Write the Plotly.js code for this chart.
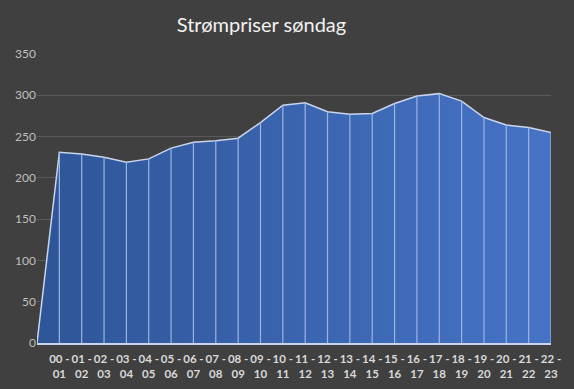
<!DOCTYPE html>
<html><head><meta charset="utf-8">
<script src="https://cdn.plot.ly/plotly-3.0.1.min.js"></script>
<style>html,body{margin:0;padding:0;background:#404040;}</style>
</head><body>
<div id="chart" style="width:574px;height:389px;"></div>
<script>
const categories = ["", "00 - 01","01 - 02","02 - 03","03 - 04","04 - 05","05 - 06","06 - 07","07 - 08","08 - 09","09 - 10","10 - 11","11 - 12","12 - 13","13 - 14","14 - 15","15 - 16","16 - 17","17 - 18","18 - 19","19 - 20","20 - 21","21 - 22","22 - 23"];
const tickLabels = ["", "00 -<br>01","01 -<br>02","02 -<br>03","03 -<br>04","04 -<br>05","05 -<br>06","06 -<br>07","07 -<br>08","08 -<br>09","09 -<br>10","10 -<br>11","11 -<br>12","12 -<br>13","13 -<br>14","14 -<br>15","15 -<br>16","16 -<br>17","17 -<br>18","18 -<br>19","19 -<br>20","20 -<br>21","21 -<br>22","22 -<br>23"];
const prices = [0, 231, 229, 225, 219, 223, 236, 243, 245, 248, 267, 288, 291, 280, 277, 278, 290, 299, 302, 293, 273, 264, 261, 255];
const dropValues = prices.map((v, i) => i === 0 ? null : v);

const traces = [
  {
    x: categories, y: prices, type: 'scatter', mode: 'lines',
    fill: 'tozeroy',
    fillgradient: {type: 'horizontal', colorscale: [[0, '#2E5597'], [1, '#4673C6']]},
    line: {color: '#C9D5EC', width: 1.5},
    hoverinfo: 'skip'
  },
  {
    x: categories, y: dropValues, type: 'scatter', mode: 'markers',
    marker: {size: 0.1, opacity: 0},
    error_y: {type: 'data', symmetric: false, array: prices.map(() => 0), arrayminus: prices, width: 0, thickness: 1.2, color: '#9DB5E2'},
    hoverinfo: 'skip'
  }
];

const layout = {
  width: 574, height: 389,
  paper_bgcolor: '#404040', plot_bgcolor: '#404040',
  showlegend: false,
  margin: {l: 37, r: 23, t: 54, b: 46},
  title: {text: 'Strømpriser søndag', xref: 'container', x: 0.4556, xanchor: 'center', yref: 'container', y: 0.937, yanchor: 'middle',
          font: {family: 'Lato, "Open Sans", sans-serif', size: 20, color: '#F2F2F2'}},
  xaxis: {
    type: 'category', range: [0, 23], tickvals: categories, ticktext: tickLabels,
    showgrid: false, zeroline: false, showline: true, linecolor: '#C9D5EC', linewidth: 1.5,
    ticks: '', tickangle: 0, ticklabelstandoff: 5,
    tickfont: {family: 'Lato, "Open Sans", sans-serif', size: 11.5, color: '#D9D9D9', weight: 'bold'}
  },
  yaxis: {
    range: [0, 350], dtick: 50, showgrid: true, gridcolor: '#5A5A5A', gridwidth: 1,
    zeroline: false, ticks: '', ticklen: 0,
    tickfont: {family: 'Lato, "Open Sans", sans-serif', size: 12, color: '#BFBFBF'}
  }
};

Plotly.newPlot('chart', traces, layout, {displayModeBar: false, staticPlot: true});
</script>
</body></html>
